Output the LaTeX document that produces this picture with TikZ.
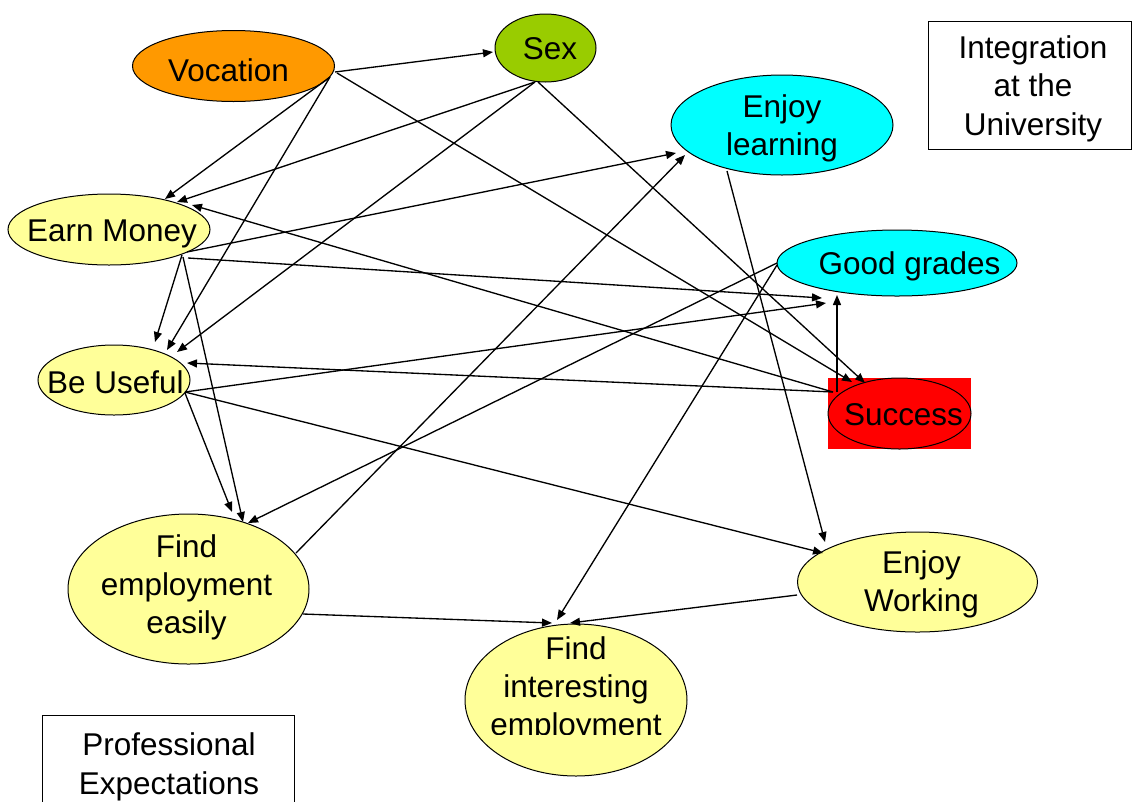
\documentclass[tikz,border=0pt]{standalone}
\usepackage{fontspec}
\setmainfont{Liberation Sans}
\usetikzlibrary{arrows.meta,calc,shapes.geometric}
\definecolor{vocorange}{HTML}{FF9900}
\definecolor{sexgreen}{HTML}{99CC00}
\definecolor{cyanfill}{HTML}{00FFFF}
\definecolor{yel}{HTML}{FFFF99}
\definecolor{redfill}{HTML}{FF0000}
\begin{document}
\begin{tikzpicture}[x=0.75pt,y=-0.75pt,
  ell/.style={ellipse, draw=black, line width=0.75pt, inner sep=0pt},
  txt/.style={font=\fontsize{23.6}{28.5}\selectfont, align=center, inner sep=0pt},
  conn/.style={line width=1pt, -{Triangle[length=7.5pt,width=6pt]}},
  boxnode/.style={draw=black, line width=0.75pt, inner sep=0pt, font=\fontsize{23.6}{28.9}\selectfont, align=center}]
\useasboundingbox (0,0) rectangle (1132,801);
\clip (0,0) rectangle (1132,801);

% boxes
\node[boxnode, minimum width=152.25pt, minimum height=96pt] (integ) at (1029.5,85) {};
\node[txt, font=\fontsize{23.6}{28.9}\selectfont] (integ-t) at (1033,88.5) {Integration\\at the\\University};
\node[boxnode, minimum width=189pt, minimum height=72.75pt] (prof) at (168,763.5) {};
\node[txt, font=\fontsize{23.6}{28.9}\selectfont] (prof-t) at (169,767) {Professional\\Expectations};

% red background of Success
\fill[redfill] (828,378) rectangle (971,449);

% ellipses
\node[ell, fill=vocorange, minimum width=151.5pt, minimum height=53.25pt,
  label={[txt,xshift=-3.75pt,yshift=-3pt]center:Vocation}] (voc) at (233.5,66) {};
\node[ell, fill=sexgreen, minimum width=75.75pt, minimum height=51pt,
  label={[txt,xshift=3.4pt,yshift=-0.8pt]center:Sex}] (sex) at (545.5,48) {};
\node[ell, fill=cyanfill, minimum width=166.5pt, minimum height=75pt,
  label={[txt,yshift=-2.2pt]center:Enjoy\\learning}] (learn) at (782,125) {};
\node[ell, fill=cyanfill, minimum width=180pt, minimum height=49.5pt,
  label={[txt,xshift=9.4pt,yshift=-2.2pt]center:Good grades}] (grades) at (897,263) {};
\node[ell, fill=redfill, minimum width=107.25pt, minimum height=53.25pt,
  label={[txt,xshift=3pt,yshift=-0.8pt]center:Success}] (success) at (899.5,413.5) {};
\node[ell, fill=yel, minimum width=151.5pt, minimum height=53.25pt,
  label={[txt,xshift=2.25pt,yshift=-3pt]center:Earn Money}] (money) at (109,229.5) {};
\node[ell, fill=yel, minimum width=114pt, minimum height=52.5pt,
  label={[txt,xshift=1pt,yshift=-1.5pt]center:Be Useful}] (useful) at (114,380) {};
\node[ell, fill=yel, minimum width=180.75pt, minimum height=112.5pt,
  label={[txt,xshift=-1.5pt,yshift=1pt]center:Find\\employment\\easily}] (easily) at (188.5,589) {};
\node[ell, fill=yel, minimum width=166.5pt, minimum height=114pt] (interesting) at (576,700) {};
\node[ell, fill=yel, minimum width=180pt, minimum height=75pt,
  label={[txt,xshift=3pt,yshift=-1.5pt]center:Enjoy\\Working}] (working) at (917.5,582) {};

\begin{scope}
  \clip (440,600) rectangle (720,734);
  \node[txt] (interesting-t) at (576,689.5) {Find\\interesting\\employment};
\end{scope}

% connectors
\draw[conn] ($(voc)+(101.5,6)$) -- ($(sex)+(-52.5,4)$);
\draw[conn] ($(voc)+(96.5,11)$) -- ($(money)+(56,-30.5)$);
\draw[conn] ($(voc)+(96.5,11)$) -- ($(useful)+(53,-30)$);
\draw[conn] ($(voc)+(103.5,7)$) -- ($(success)+(-47.5,-31.5)$);
\draw[conn] ($(sex)+(-10.5,34)$) -- ($(money)+(68,-27.5)$);
\draw[conn] ($(sex)+(-10.5,34)$) -- ($(useful)+(63,-28)$);
\draw[conn] ($(sex)+(-7.5,34)$) -- ($(success)+(-34.5,-30.5)$);
\draw[conn] ($(success)+(-66.5,-21.5)$) -- ($(money)+(83,-24.5)$);
\draw[conn] ($(success)+(-66.5,-21.5)$) -- ($(useful)+(73,-17)$);
\draw[conn] ($(success)+(-62.5,-21.5)$) -- ($(grades)+(-60,32)$);
\draw[conn] ($(money)+(73,25.5)$) -- ($(useful)+(41,-38)$);
\draw[conn] ($(money)+(74,27.5)$) -- ($(easily)+(54.5,-67)$);
\draw[conn] ($(money)+(79,28.5)$) -- ($(grades)+(-75,35)$);
\draw[conn] ($(money)+(78,22.5)$) -- ($(learn)+(-106,28)$);
\draw[conn] ($(useful)+(71,12)$) -- ($(grades)+(-71,40)$);
\draw[conn] ($(useful)+(71,13)$) -- ($(easily)+(43.5,-77)$);
\draw[conn] ($(useful)+(71,12)$) -- ($(working)+(-94.5,-29)$);
\draw[conn] ($(easily)+(107.5,-36)$) -- ($(learn)+(-97,30)$);
\draw[conn] ($(learn)+(-55,46)$) -- ($(working)+(-92.5,-40)$);
\draw[conn] ($(grades)+(-120,0)$) -- ($(easily)+(59.5,-66)$);
\draw[conn] ($(grades)+(-120,2)$) -- ($(interesting)+(-19,-80)$);
\draw[conn] ($(easily)+(114.5,25)$) -- ($(interesting)+(-24,-77)$);
\draw[conn] ($(working)+(-120.5,13)$) -- ($(interesting)+(-6,-77)$);
\end{tikzpicture}
\end{document}
